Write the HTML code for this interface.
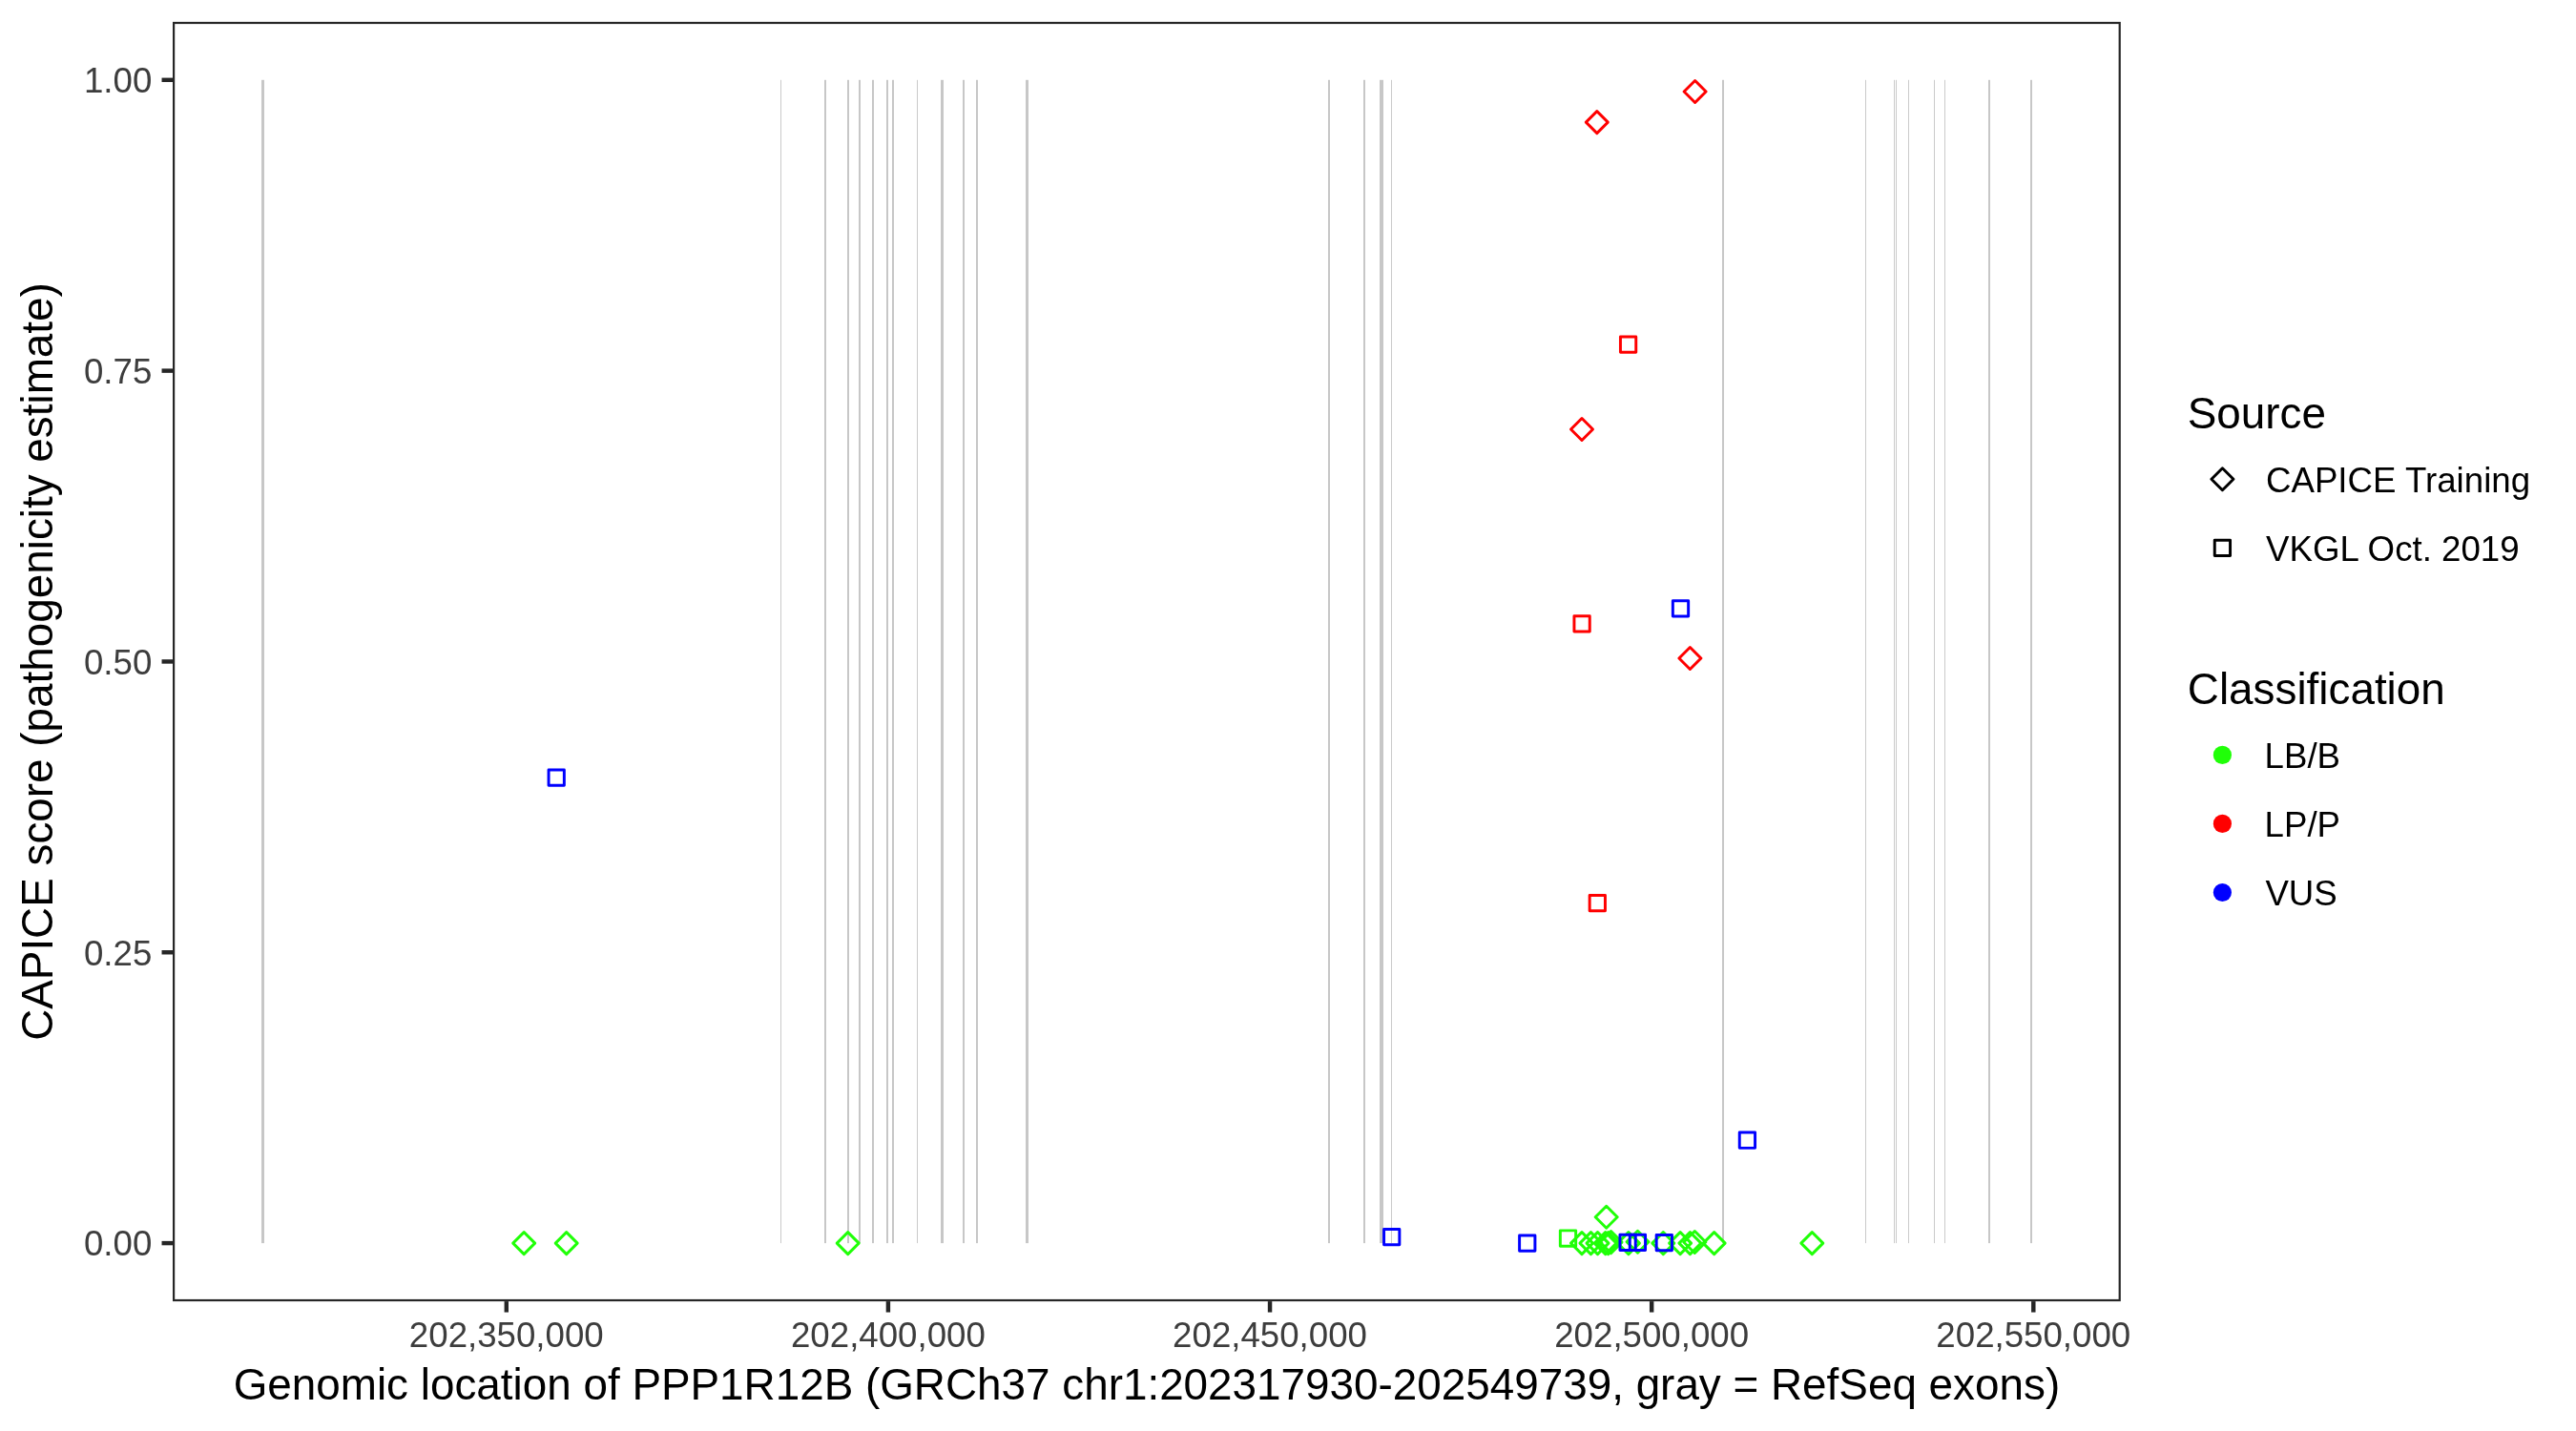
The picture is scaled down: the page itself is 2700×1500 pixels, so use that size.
<!DOCTYPE html>
<html lang="en"><head><meta charset="utf-8"><title>CAPICE score PPP1R12B</title>
<style>html,body{margin:0;padding:0;background:#fff}svg{display:block;will-change:transform}text{font-family:"Liberation Sans",Arial,Helvetica,sans-serif}</style></head><body>
<svg width="2700" height="1500" viewBox="0 0 2700 1500">
<rect width="2700" height="1500" fill="#fff"/>
<g shape-rendering="auto">
<rect x="274.00" y="83.80" width="3" height="1219.30" fill="#C7C7C7"/>
<rect x="818.00" y="83.80" width="1" height="1219.30" fill="#CACACA"/>
<rect x="864.00" y="83.80" width="2" height="1219.30" fill="#C7C7C7"/>
<rect x="888.00" y="83.80" width="2" height="1219.30" fill="#C7C7C7"/>
<rect x="900.00" y="83.80" width="2" height="1219.30" fill="#C7C7C7"/>
<rect x="914.00" y="83.80" width="2" height="1219.30" fill="#C7C7C7"/>
<rect x="929.00" y="83.80" width="2" height="1219.30" fill="#C7C7C7"/>
<rect x="935.00" y="83.80" width="2" height="1219.30" fill="#C7C7C7"/>
<rect x="961.00" y="83.80" width="1" height="1219.30" fill="#CACACA"/>
<rect x="986.00" y="83.80" width="3" height="1219.30" fill="#C7C7C7"/>
<rect x="1009.00" y="83.80" width="2" height="1219.30" fill="#C7C7C7"/>
<rect x="1023.00" y="83.80" width="2" height="1219.30" fill="#C7C7C7"/>
<rect x="1075.00" y="83.80" width="3" height="1219.30" fill="#C7C7C7"/>
<rect x="1392.00" y="83.80" width="2" height="1219.30" fill="#C7C7C7"/>
<rect x="1429.00" y="83.80" width="2" height="1219.30" fill="#C7C7C7"/>
<rect x="1446.00" y="83.80" width="4" height="1219.30" fill="#C7C7C7"/>
<rect x="1458.00" y="83.80" width="1" height="1219.30" fill="#CACACA"/>
<rect x="1805.00" y="83.80" width="2" height="1219.30" fill="#C7C7C7"/>
<rect x="1955.00" y="83.80" width="1" height="1219.30" fill="#CACACA"/>
<rect x="1985.00" y="83.80" width="1" height="1219.30" fill="#CACACA"/>
<rect x="1987.00" y="83.80" width="1" height="1219.30" fill="#CACACA"/>
<rect x="2000.00" y="83.80" width="1" height="1219.30" fill="#CACACA"/>
<rect x="2027.00" y="83.80" width="1" height="1219.30" fill="#CACACA"/>
<rect x="2038.00" y="83.80" width="1" height="1219.30" fill="#CACACA"/>
<rect x="2084.00" y="83.80" width="2" height="1219.30" fill="#C7C7C7"/>
<rect x="2128.00" y="83.80" width="2" height="1219.30" fill="#C7C7C7"/>
</g>
<g fill="none" stroke-width="2.95" stroke-linejoin="round">
<rect x="1635.35" y="1289.85" width="16.3" height="16.3" stroke="#20FF08"/>
<path d="M537.70 1303.10L549.20 1291.60L560.70 1303.10L549.20 1314.60Z" stroke="#20FF08"/>
<path d="M582.20 1303.10L593.70 1291.60L605.20 1303.10L593.70 1314.60Z" stroke="#20FF08"/>
<path d="M877.20 1303.10L888.70 1291.60L900.20 1303.10L888.70 1314.60Z" stroke="#20FF08"/>
<path d="M1646.50 1303.10L1658.00 1291.60L1669.50 1303.10L1658.00 1314.60Z" stroke="#20FF08"/>
<path d="M1655.95 1303.10L1667.45 1291.60L1678.95 1303.10L1667.45 1314.60Z" stroke="#20FF08"/>
<path d="M1663.00 1303.10L1674.50 1291.60L1686.00 1303.10L1674.50 1314.60Z" stroke="#20FF08"/>
<path d="M1671.20 1303.10L1682.70 1291.60L1694.20 1303.10L1682.70 1314.60Z" stroke="#20FF08"/>
<path d="M1674.10 1303.10L1685.60 1291.60L1697.10 1303.10L1685.60 1314.60Z" stroke="#20FF08"/>
<path d="M1677.00 1302.10L1688.50 1290.60L1700.00 1302.10L1688.50 1313.60Z" stroke="#20FF08"/>
<path d="M1695.40 1303.10L1706.90 1291.60L1718.40 1303.10L1706.90 1314.60Z" stroke="#20FF08"/>
<path d="M1705.00 1301.80L1716.50 1290.30L1728.00 1301.80L1716.50 1313.30Z" stroke="#20FF08"/>
<path d="M1731.80 1303.10L1743.30 1291.60L1754.80 1303.10L1743.30 1314.60Z" stroke="#20FF08"/>
<path d="M1749.60 1303.10L1761.10 1291.60L1772.60 1303.10L1761.10 1314.60Z" stroke="#20FF08"/>
<path d="M1759.95 1303.10L1771.45 1291.60L1782.95 1303.10L1771.45 1314.60Z" stroke="#20FF08"/>
<path d="M1764.80 1302.00L1776.30 1290.50L1787.80 1302.00L1776.30 1313.50Z" stroke="#20FF08"/>
<path d="M1785.15 1303.10L1796.65 1291.60L1808.15 1303.10L1796.65 1314.60Z" stroke="#20FF08"/>
<path d="M1887.80 1303.10L1899.30 1291.60L1910.80 1303.10L1899.30 1314.60Z" stroke="#20FF08"/>
<path d="M1672.20 1275.80L1683.70 1264.30L1695.20 1275.80L1683.70 1287.30Z" stroke="#20FF08"/>
<path d="M1662.30 128.10L1673.80 116.60L1685.30 128.10L1673.80 139.60Z" stroke="#FF0000"/>
<path d="M1765.10 96.00L1776.60 84.50L1788.10 96.00L1776.60 107.50Z" stroke="#FF0000"/>
<path d="M1646.50 450.00L1658.00 438.50L1669.50 450.00L1658.00 461.50Z" stroke="#FF0000"/>
<path d="M1759.90 690.00L1771.40 678.50L1782.90 690.00L1771.40 701.50Z" stroke="#FF0000"/>
<rect x="1698.45" y="352.95" width="16.3" height="16.3" stroke="#FF0000"/>
<rect x="1649.95" y="645.75" width="16.3" height="16.3" stroke="#FF0000"/>
<rect x="1666.15" y="938.45" width="16.3" height="16.3" stroke="#FF0000"/>
<rect x="575.05" y="806.95" width="16.3" height="16.3" stroke="#0000FF"/>
<rect x="1753.35" y="629.65" width="16.3" height="16.3" stroke="#0000FF"/>
<rect x="1823.25" y="1187.05" width="16.3" height="16.3" stroke="#0000FF"/>
<rect x="1450.55" y="1288.45" width="16.3" height="16.3" stroke="#0000FF"/>
<rect x="1592.60" y="1294.95" width="16.3" height="16.3" stroke="#0000FF"/>
<rect x="1697.95" y="1294.25" width="16.3" height="16.3" stroke="#0000FF"/>
<rect x="1708.25" y="1294.25" width="16.3" height="16.3" stroke="#0000FF"/>
<rect x="1736.15" y="1294.45" width="16.3" height="16.3" stroke="#0000FF"/>
</g>
<rect x="182.10" y="24.00" width="2039.60" height="1339.00" fill="none" stroke="#262626" stroke-width="2.2"/>
<g stroke="#262626" stroke-width="4.45">
<line x1="169.54" x2="181.00" y1="1303.10" y2="1303.10"/>
<line x1="169.54" x2="181.00" y1="998.27" y2="998.27"/>
<line x1="169.54" x2="181.00" y1="693.45" y2="693.45"/>
<line x1="169.54" x2="181.00" y1="388.62" y2="388.62"/>
<line x1="169.54" x2="181.00" y1="83.80" y2="83.80"/>
<line x1="530.80" x2="530.80" y1="1364.10" y2="1375.56"/>
<line x1="930.92" x2="930.92" y1="1364.10" y2="1375.56"/>
<line x1="1331.05" x2="1331.05" y1="1364.10" y2="1375.56"/>
<line x1="1731.17" x2="1731.17" y1="1364.10" y2="1375.56"/>
<line x1="2131.30" x2="2131.30" y1="1364.10" y2="1375.56"/>
</g>
<g fill="#3D3D3D" font-size="36.67">
<text x="159.3" y="1316.40" text-anchor="end">0.00</text>
<text x="159.3" y="1011.57" text-anchor="end">0.25</text>
<text x="159.3" y="706.75" text-anchor="end">0.50</text>
<text x="159.3" y="401.93" text-anchor="end">0.75</text>
<text x="159.3" y="97.10" text-anchor="end">1.00</text>
<text x="530.80" y="1411.9" text-anchor="middle">202,350,000</text>
<text x="930.92" y="1411.9" text-anchor="middle">202,400,000</text>
<text x="1331.05" y="1411.9" text-anchor="middle">202,450,000</text>
<text x="1731.17" y="1411.9" text-anchor="middle">202,500,000</text>
<text x="2131.30" y="1411.9" text-anchor="middle">202,550,000</text>
</g>
<g fill="#000" font-size="45.83">
<text x="1201.90" y="1467.3" text-anchor="middle">Genomic location of PPP1R12B (GRCh37 chr1:202317930-202549739, gray = RefSeq exons)</text>
<text transform="translate(54.9 693.50) rotate(-90)" text-anchor="middle">CAPICE score (pathogenicity estimate)</text>
<text x="2292.8" y="448.5">Source</text>
<text x="2292.8" y="738.3">Classification</text>
</g>
<g fill="none" stroke="#000" stroke-width="2.95" stroke-linejoin="round">
<path d="M2317.90 502.30L2329.40 490.80L2340.90 502.30L2329.40 513.80Z" stroke="#000"/>
<rect x="2321.25" y="566.15" width="16.3" height="16.3" stroke="#000"/>
</g>
<circle cx="2329.4" cy="791.4" r="9.6" fill="#20FF08"/>
<circle cx="2329.4" cy="863.4" r="9.6" fill="#FF0000"/>
<circle cx="2329.4" cy="935.5" r="9.6" fill="#0000FF"/>
<g fill="#000" font-size="36.67">
<text x="2375.0" y="515.8">CAPICE Training</text>
<text x="2375.0" y="588.3">VKGL Oct. 2019</text>
<text x="2373.6" y="804.8">LB/B</text>
<text x="2373.6" y="877.0">LP/P</text>
<text x="2374.4" y="948.9">VUS</text>
</g>
</svg></body></html>
